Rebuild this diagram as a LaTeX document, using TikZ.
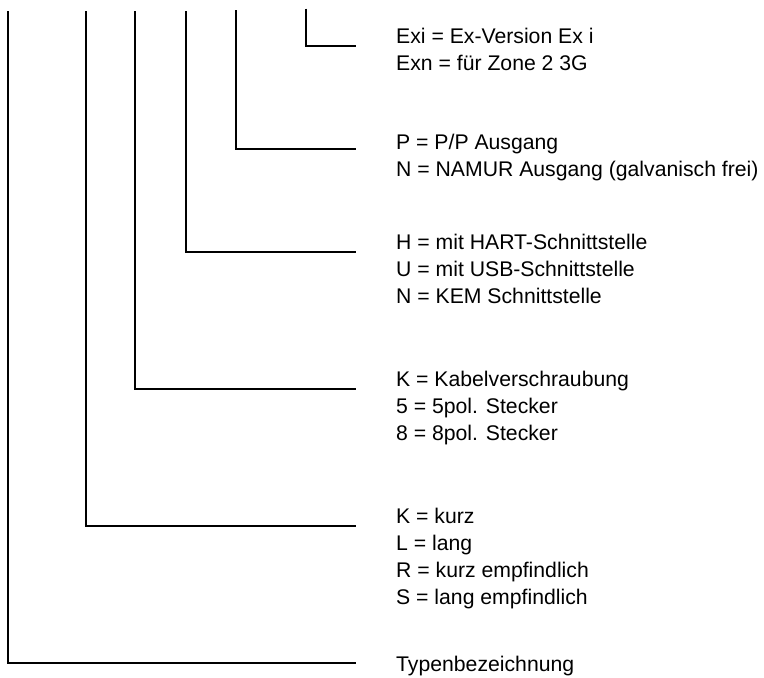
\documentclass[tikz,border=0pt]{standalone}
\usepackage{fontspec}
\setmainfont{Liberation Sans}
\begin{document}
\begin{tikzpicture}[x=1pt,y=-1pt,
  lead/.style={line width=1.4pt,line cap=butt,line join=miter},
  legend/.style={anchor=base west,inner sep=0pt,align=left,
    font=\fontsize{21.2}{27}\selectfont}]
\useasboundingbox (0,0) rectangle (764,678);
% vertical starting points
\coordinate (t1) at (8,11);
\coordinate (t2) at (86,11);
\coordinate (t3) at (135,11);
\coordinate (t4) at (186,11);
\coordinate (t5) at (236,10);
\coordinate (t6) at (306,8.5);
% corners
\coordinate (c1) at (8,663);
\coordinate (c2) at (86,526);
\coordinate (c3) at (135,389);
\coordinate (c4) at (186,252);
\coordinate (c5) at (236,149);
\coordinate (c6) at (306,46);
% ends
\coordinate (e1) at (356,663);
\coordinate (e2) at (356,526);
\coordinate (e3) at (356,389);
\coordinate (e4) at (356,252);
\coordinate (e5) at (356,149);
\coordinate (e6) at (356,46);
\draw[lead] (t1) -- (c1) -- (e1);
\draw[lead] (t2) -- (c2) -- (e2);
\draw[lead] (t3) -- (c3) -- (e3);
\draw[lead] (t4) -- (c4) -- (e4);
\draw[lead] (t5) -- (c5) -- (e5);
\draw[lead] (t6) -- (c6) -- (e6);
% legends (anchored at the baseline of the last line)
\node[legend] (l6) at (396,70) {Exi = Ex-Version Ex i\\Exn = für Zone 2 3G};
\node[legend] (l5) at (396,176) {P = P/P Ausgang\\N = NAMUR Ausgang (galvanisch frei)};
\node[legend] (l4) at (396,303) {H = mit HART-Schnittstelle\\U = mit USB-Schnittstelle\\N = KEM Schnittstelle};
\node[legend] (l3) at (396,440) {K = Kabelverschraubung\\5 = 5pol. Stecker\\8 = 8pol. Stecker};
\node[legend] (l2) at (396,604) {K = kurz\\L = lang\\R = kurz empfindlich\\S = lang empfindlich};
\node[legend] (l1) at (396,671) {Typenbezeichnung};
\end{tikzpicture}
\end{document}
